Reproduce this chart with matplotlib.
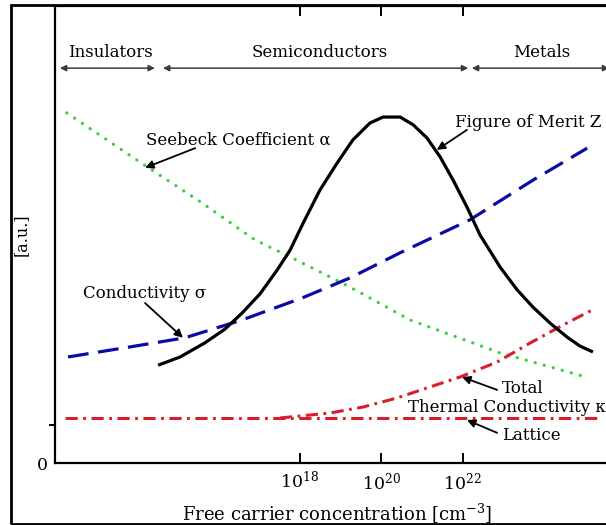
import matplotlib
matplotlib.use("Agg")
import matplotlib.pyplot as plt
import numpy as np
from matplotlib.patches import Rectangle

plt.rcParams["font.family"] = "DejaVu Serif"
plt.rcParams["mathtext.fontset"] = "dejavuserif"

# curves, x as log10 of carrier concentration, y in arbitrary units
seebeck_logn = [12.29, 14.26, 15.61, 16.91, 17.77, 18.75, 19.24, 20.71, 22.92, 24.96]
seebeck = [76.6, 64.8, 56.9, 48.8, 45.1, 40.7, 38.5, 31.3, 24.1, 19.0]

cond_logn = [12.32, 13.84, 15.19, 16.59, 18.06, 19.24, 20.47, 22.18, 23.73, 25.06]
cond = [23.2, 25.4, 27.4, 31.3, 36.1, 40.5, 46.0, 53.2, 61.9, 68.9]

merit_logn = [14.53, 15.07, 15.68, 16.17, 16.59, 17.03, 17.45, 17.77, 18.09, 18.50,
              18.92, 19.31, 19.73, 20.05, 20.47, 20.79, 21.13, 21.45, 21.77, 22.11,
              22.43, 22.92, 23.34, 23.73, 24.15, 24.56, 24.88, 25.20]
merit = [21.4, 23.2, 26.3, 29.3, 32.8, 37.0, 42.2, 46.6, 52.5, 59.7,
         65.6, 70.7, 74.4, 75.7, 75.7, 74.0, 71.1, 67.0, 61.9, 56.0,
         49.9, 42.9, 37.9, 34.1, 30.6, 27.6, 25.6, 24.3]

total_logn = [17.52, 18.75, 19.56, 20.39, 21.20, 21.94, 22.85, 23.66, 24.47, 25.18]
total = [9.85, 10.94, 12.25, 14.22, 16.63, 18.82, 22.10, 26.26, 30.20, 33.48]

lattice_logn = [12.25, 25.30]
lattice = [9.85, 9.85]

# material regions across the top
region_names = ["Insulators", "Semiconductors", "Metals"]
region_start = [12.12, 14.65, 22.23]
region_end = [14.45, 22.14, 25.60]
region_text_x = [13.37, 18.50, 23.95]

xtick_exp = [18, 20, 22]


def n(lx):
    return 10.0 ** np.asarray(lx)


fig = plt.figure(figsize=(6.06, 5.25), dpi=100)
ax = fig.add_axes([55 / 606, 62 / 525, 565 / 606, 457 / 525])

ax.plot(n(seebeck_logn), seebeck, color="#3ccf3c", lw=2.4, dashes=(0.01, 2.8),
        dash_capstyle="round")
ax.plot(n(cond_logn), cond, color="#0a0aa8", lw=2.3, dashes=(6.5, 3.0))
ax.plot(n(lattice_logn), lattice, color="#d81e2c", lw=2.2, dashes=(4.0, 1.8, 0.9, 1.8))
ax.plot(n(total_logn), total, color="#d81e2c", lw=2.2, dashes=(4.0, 1.8, 0.9, 1.8))
ax.plot(n(merit_logn), merit, color="black", lw=2.3, solid_capstyle="butt")

ax.set_xscale("log")
ax.set_xlim(1e12, 10 ** 25.865)
ax.set_ylim(0, 100)

for s in ["left", "bottom", "top"]:
    ax.spines[s].set_linewidth(1.6)
ax.spines["right"].set_visible(False)

ax.set_xticks(n(xtick_exp))
ax.set_xticklabels([f"$10^{{{e}}}$" for e in xtick_exp], fontsize=12.5)
ax.xaxis.set_minor_locator(matplotlib.ticker.NullLocator())
ax.tick_params(axis="x", direction="in", length=7, width=1.4, top=True, pad=6)

ax.set_yticks([0, 8.3])
ax.set_yticklabels(["0", ""], fontsize=12.5)
ax.tick_params(axis="y", direction="out", length=4, width=1.4, pad=1)
ax.yaxis.get_major_ticks()[0].tick1line.set_visible(False)

ax.set_xlabel("Free carrier concentration [cm$^{-3}$]", fontsize=13)
ax.xaxis.set_label_coords(0.5, -0.085)
ax.set_ylabel("[a.u.]", fontsize=11.5)
ax.yaxis.set_label_coords(-0.045, 0.5)

# region arrows
for name, a, b, tx in zip(region_names, region_start, region_end, region_text_x):
    ax.annotate("", xy=(n(b), 86.4), xytext=(n(a), 86.4),
                arrowprops=dict(arrowstyle="<|-|>", color="#3a3a3a", lw=1.1,
                                mutation_scale=9, shrinkA=0, shrinkB=0),
                annotation_clip=False)
    ax.text(n(tx), 89.9, name, fontsize=12, ha="center", va="center")

# curve labels with pointer arrows
arrow = dict(arrowstyle="-|>", color="black", lw=1.3, mutation_scale=12,
             shrinkA=0, shrinkB=0)
fs = 12
ax.text(n(14.23), 70.7, "Seebeck Coefficient α", fontsize=fs, va="center")
ax.annotate("", xy=(n(14.21), 64.6), xytext=(n(15.44), 68.9), arrowprops=arrow)

ax.text(n(21.82), 74.4, "Figure of Merit Z", fontsize=fs, va="center")
ax.annotate("", xy=(n(21.37), 68.5), xytext=(n(22.11), 72.9), arrowprops=arrow)

ax.text(n(12.69), 37.0, "Conductivity σ", fontsize=fs, va="center")
ax.annotate("", xy=(n(15.14), 27.4), xytext=(n(14.21), 35.0), arrowprops=arrow)

ax.text(n(22.97), 16.4, "Total", fontsize=fs, va="center")
ax.annotate("", xy=(n(21.99), 18.8), xytext=(n(22.85), 16.0), arrowprops=arrow)

ax.text(n(20.66), 12.25, "Thermal Conductivity κ", fontsize=fs, va="center")

ax.text(n(22.97), 6.1, "Lattice", fontsize=fs, va="center")
ax.annotate("", xy=(n(22.11), 9.4), xytext=(n(22.85), 6.6), arrowprops=arrow)

# outer frame of the figure
fig.add_artist(Rectangle((11 / 606, 1 / 525), 1.1, 519 / 525, transform=fig.transFigure,
                         fill=False, lw=2.0, edgecolor="black", clip_on=False))

fig.savefig("out.png", dpi=100)
